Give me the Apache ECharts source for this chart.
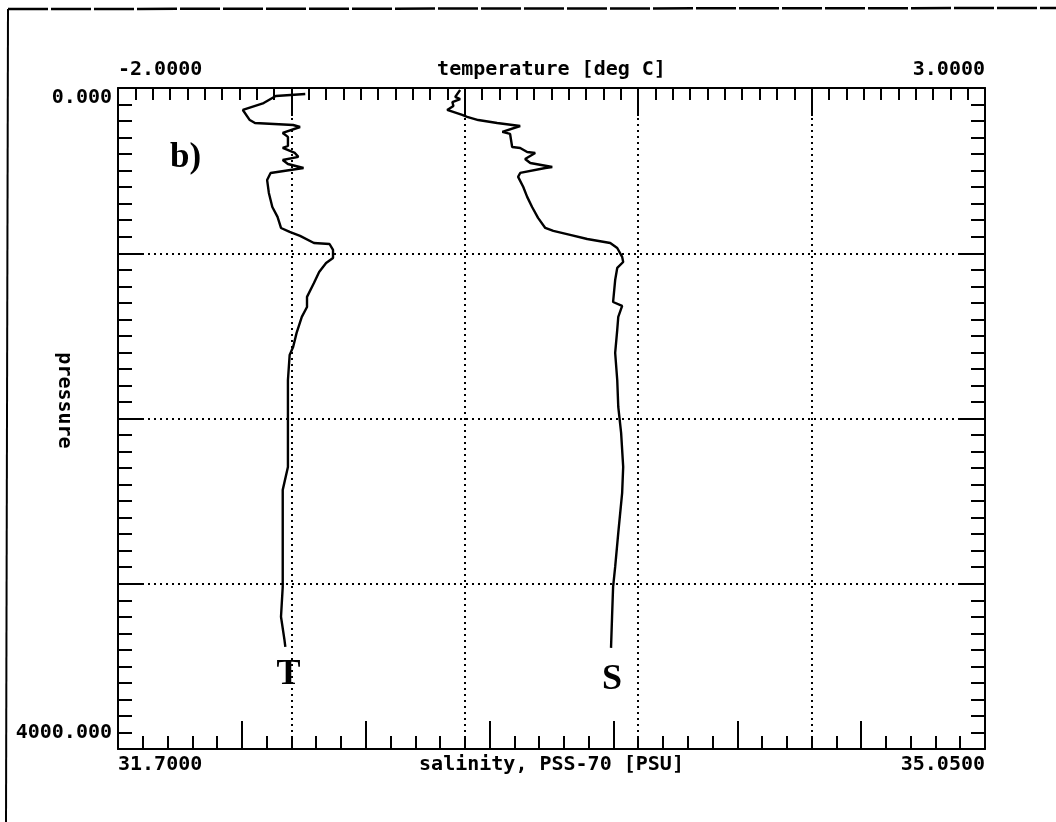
<!DOCTYPE html>
<html>
<head>
<meta charset="utf-8">
<title>CTD profile b)</title>
<script src="https://cdn.jsdelivr.net/npm/echarts@6/dist/echarts.min.js"></script>
<style>
  html, body { margin: 0; padding: 0; background: #fff; }
  #chart { width: 1056px; height: 822px; }
</style>
</head>
<body>
<div id="chart"></div>
<script>
// temperature profile: [deg C, pressure]
var tempProfile = [
  [-0.92, 36], [-1.09, 48], [-1.16, 91], [-1.28, 133], [-1.24, 194], [-1.21, 212],
  [-0.99, 224], [-0.95, 236], [-1.05, 272], [-1.02, 296], [-1.02, 351], [-1.05, 363],
  [-0.98, 393], [-0.96, 417], [-1.05, 436], [-1.02, 460], [-0.93, 484], [-1.12, 514],
  [-1.14, 557], [-1.13, 635], [-1.11, 720], [-1.08, 780], [-1.06, 847], [-1.01, 871],
  [-0.95, 895], [-0.87, 938], [-0.78, 944], [-0.76, 980], [-0.76, 1029], [-0.80, 1059],
  [-0.84, 1113], [-0.87, 1180], [-0.91, 1264], [-0.91, 1325], [-0.94, 1385], [-0.97, 1482],
  [-0.99, 1567], [-1.01, 1615], [-1.02, 1767], [-1.02, 2087], [-1.02, 2293], [-1.05, 2432],
  [-1.05, 2692], [-1.05, 3019], [-1.06, 3200], [-1.04, 3340], [-1.035, 3382]
]

// salinity profile: [PSU, pressure]
var salProfile = [
  [33.022, 12], [33.003, 54], [33.022, 67], [32.992, 85], [32.996, 109], [32.972, 133],
  [33.030, 163], [33.049, 175], [33.092, 194], [33.165, 212], [33.254, 230], [33.185, 266],
  [33.215, 278], [33.223, 357], [33.254, 363], [33.281, 387], [33.312, 393], [33.273, 430],
  [33.293, 454], [33.378, 478], [33.351, 484], [33.254, 514], [33.246, 538], [33.266, 599],
  [33.281, 659], [33.300, 720], [33.323, 786], [33.351, 847], [33.382, 865], [33.447, 889],
  [33.513, 914], [33.602, 938], [33.629, 968], [33.648, 1022], [33.652, 1053], [33.629, 1089],
  [33.621, 1162], [33.613, 1295], [33.648, 1319], [33.633, 1385], [33.629, 1464], [33.621, 1603],
  [33.629, 1767], [33.633, 1930], [33.644, 2087], [33.652, 2293], [33.648, 2450], [33.633, 2692],
  [33.621, 2898], [33.613, 3019], [33.609, 3200], [33.605, 3388]
]

var tempRange = [-2, 3]
var salRange = [31.7, 35.05]
var presRange = [0, 4000]

// where the T and S letters sit
var tMark = [[-1.017, 3552]]
var sMark = [[33.609, 3582]]

var monoFont = '"DejaVu Sans Mono", monospace'
var black = '#000'
var textStyle = { fontFamily: monoFont, fontSize: 20, fontWeight: 'bold', color: black }

function endLabel(v, range, digits) {
  if (Math.abs(v - range[0]) < 1e-6) return range[0].toFixed(digits)
  if (Math.abs(v - range[1]) < 1e-6) return range[1].toFixed(digits)
  return ''
}

var chart = echarts.init(document.getElementById('chart'), null, { renderer: 'canvas' })

var gridDots = { color: black, width: 2, type: [2, 4] }
var tickStyle = { color: black, width: 2 }

var option = {
  backgroundColor: '#fff',
  animation: false,
  grid: { left: 118, right: 71, top: 88, bottom: 73, containLabel: false, outerBoundsMode: 'none' },
  xAxis: [
    {
      type: 'value',
      position: 'top',
      min: tempRange[0],
      max: tempRange[1],
      interval: 1,
      name: 'temperature [deg C]',
      nameLocation: 'middle',
      nameGap: 8,
      nameMoveOverlap: false,
      nameTextStyle: Object.assign({ verticalAlign: 'bottom' }, textStyle),
      axisLine: { onZero: false, lineStyle: tickStyle },
      axisTick: { inside: true, length: 28, lineStyle: tickStyle },
      minorTick: { show: true, splitNumber: 10, length: 12, lineStyle: tickStyle },
      splitLine: { show: true, lineStyle: gridDots },
      axisLabel: Object.assign({
        margin: 8,
        alignMinLabel: 'left', alignMaxLabel: 'right',
        formatter: function (v) { return endLabel(v, tempRange, 4) }
      }, textStyle)
    },
    {
      type: 'value',
      position: 'bottom',
      min: salRange[0],
      max: salRange[1],
      name: 'salinity, PSS-70 [PSU]',
      nameLocation: 'middle',
      nameGap: 6,
      nameMoveOverlap: false,
      nameTextStyle: Object.assign({ verticalAlign: 'top' }, textStyle),
      axisLine: { onZero: false, lineStyle: tickStyle },
      axisTick: { show: false },
      splitLine: { show: false },
      axisLabel: Object.assign({
        margin: 6,
        showMinLabel: true, showMaxLabel: true,
        alignMinLabel: 'left', alignMaxLabel: 'right',
        formatter: function (v) { return endLabel(v, salRange, 4) }
      }, textStyle)
    },
    {
      // tick ruler of the salinity axis: 7 long divisions of 5
      type: 'value',
      position: 'bottom',
      min: 0,
      max: 35,
      interval: 5,
      axisLine: { show: false, onZero: false },
      axisTick: { inside: true, length: 28, lineStyle: tickStyle },
      minorTick: { show: true, splitNumber: 5, length: 13, lineStyle: tickStyle },
      splitLine: { show: false },
      axisLabel: { show: false }
    }
  ],
  yAxis: [
    {
      type: 'value',
      inverse: true,
      min: presRange[0],
      max: presRange[1],
      interval: 1000,
      name: 'pressure',
      nameLocation: 'middle',
      nameRotate: -90,
      nameGap: 44,
      nameMoveOverlap: false,
      nameTextStyle: Object.assign({ padding: [0, 36, 0, 0] }, textStyle),
      axisLine: { onZero: false, lineStyle: tickStyle },
      axisTick: { inside: true, length: 26, lineStyle: tickStyle },
      minorTick: { show: true, splitNumber: 10, length: 14, lineStyle: tickStyle },
      splitLine: { show: true, lineStyle: gridDots },
      axisLabel: {
        margin: 6, color: black,
        formatter: function (v) {
          if (v === presRange[0]) return '{a|' + presRange[0].toFixed(3) + '}'
          if (v === presRange[1]) return '{b|' + presRange[1].toFixed(3) + '}'
          return ''
        },
        rich: {
          a: Object.assign({ padding: [20, 0, 0, 0] }, textStyle),
          b: Object.assign({ padding: [0, 0, 32, 0] }, textStyle)
        }
      }
    },
    {
      type: 'value',
      inverse: true,
      position: 'right',
      min: presRange[0],
      max: presRange[1],
      interval: 1000,
      axisLine: { onZero: false, lineStyle: tickStyle },
      axisTick: { inside: true, length: 26, lineStyle: tickStyle },
      minorTick: { show: true, splitNumber: 10, length: 14, lineStyle: tickStyle },
      splitLine: { show: false },
      axisLabel: { show: false }
    }
  ],
  series: [
    {
      name: 'T',
      type: 'line',
      xAxisIndex: 0,
      yAxisIndex: 0,
      data: tempProfile,
      showSymbol: false,
      lineStyle: { color: black, width: 2.4 }
    },
    {
      name: 'S',
      type: 'line',
      xAxisIndex: 1,
      yAxisIndex: 0,
      data: salProfile,
      showSymbol: false,
      lineStyle: { color: black, width: 2.4 }
    },
    {
      type: 'scatter',
      xAxisIndex: 0,
      yAxisIndex: 0,
      data: tMark,
      symbolSize: 0,
      itemStyle: { opacity: 1 },
      label: {
        show: true, position: 'inside', formatter: 'T',
        fontFamily: '"Liberation Serif", serif', fontWeight: 'bold', fontSize: 36, color: black
      }
    },
    {
      type: 'scatter',
      xAxisIndex: 1,
      yAxisIndex: 0,
      data: sMark,
      symbolSize: 0,
      itemStyle: { opacity: 1 },
      label: {
        show: true, position: 'inside', formatter: 'S',
        fontFamily: '"Liberation Serif", serif', fontWeight: 'bold', fontSize: 36, color: black
      }
    }
  ],
  graphic: [
    // scanned page border
    {
      type: 'line',
      shape: { x1: 8, y1: 9, x2: 1056, y2: 8 },
      style: { stroke: black, lineWidth: 2.5, lineDash: [40, 3] }
    },
    {
      type: 'line',
      shape: { x1: 8, y1: 9, x2: 6, y2: 822 },
      style: { stroke: black, lineWidth: 2 }
    },
    {
      type: 'text',
      left: 170,
      top: 140,
      style: { text: 'b)', font: 'bold 35px "Liberation Serif", serif', fill: black }
    }
  ]
}

chart.setOption(option)
</script>
</body>
</html>
